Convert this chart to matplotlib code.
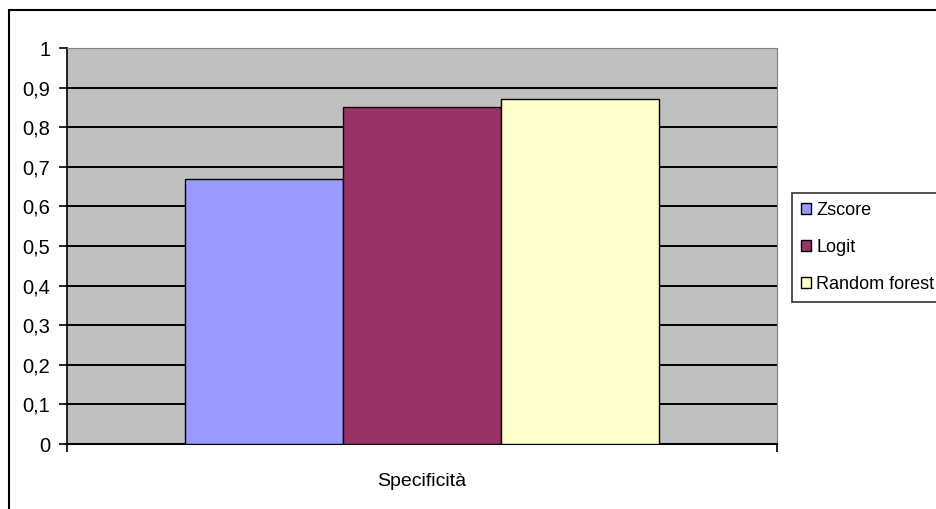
import matplotlib.pyplot as plt
from matplotlib.patches import Rectangle

plt.rcParams['font.family'] = ['Liberation Sans', 'DejaVu Sans']

# data
category = 'Specificità'
models = ['Zscore', 'Logit', 'Random forest']
values = [0.67, 0.85, 0.87]
colors = ['#9999FF', '#993366', '#FFFFCC']
yticks = [0, 0.1, 0.2, 0.3, 0.4, 0.5, 0.6, 0.7, 0.8, 0.9, 1]

W, H = 936, 509
fig = plt.figure(figsize=(W / 100, H / 100), dpi=100)

# outer chart border (runs off the right/bottom edges)
fig.patches.append(Rectangle((9 / W, -0.1), 1.2, 1 - 10 / H + 0.1,
                             transform=fig.transFigure, fill=False,
                             edgecolor='black', linewidth=1.5))

ax = fig.add_axes([67 / W, 65 / H, 710 / W, 396 / H])
ax.set_facecolor('#C0C0C0')

bw = 2 / 9
for i, (m, v, c) in enumerate(zip(models, values, colors)):
    ax.bar((i - 1) * bw, v, width=bw, color=c, edgecolor='black',
           linewidth=1, label=m, zorder=3)

ax.set_xlim(-0.5, 0.5)
ax.set_ylim(0, 1)
ax.set_yticks(yticks)
ax.set_yticklabels([('%g' % t).replace('.', ',') for t in yticks], fontsize=14.5)
for t in yticks[1:]:
    ax.axhline(t, color='black', linewidth=1.4, zorder=1)

ax.set_xticks([-0.5, 0.5])
ax.set_xticklabels(['', ''])
ax.set_xticks([0], minor=True)
ax.set_xticklabels([category], minor=True, fontsize=14)
ax.tick_params(axis='x', which='minor', length=0, pad=21)
ax.tick_params(axis='x', which='major', length=6, direction='out', width=1.2)
ax.tick_params(axis='y', length=6, direction='out', width=1.2, pad=6)

ax.spines['left'].set_linewidth(1.2)
ax.spines['bottom'].set_linewidth(1.5)
ax.spines['top'].set_color('#808080')
ax.spines['right'].set_color('#808080')
ax.spines['top'].set_linewidth(0.8)
ax.spines['right'].set_linewidth(0.8)

leg = fig.legend(loc='upper left', bbox_to_anchor=(792 / W, 1 - 193 / H),
                 fontsize=13, frameon=True, fancybox=False,
                 handlelength=0.55, handleheight=0.55, handletextpad=0.3,
                 labelspacing=1.1, borderpad=0.5, borderaxespad=0)
leg.get_frame().set_edgecolor('black')
leg.get_frame().set_linewidth(1.2)

fig.savefig('out.png', dpi=100)
